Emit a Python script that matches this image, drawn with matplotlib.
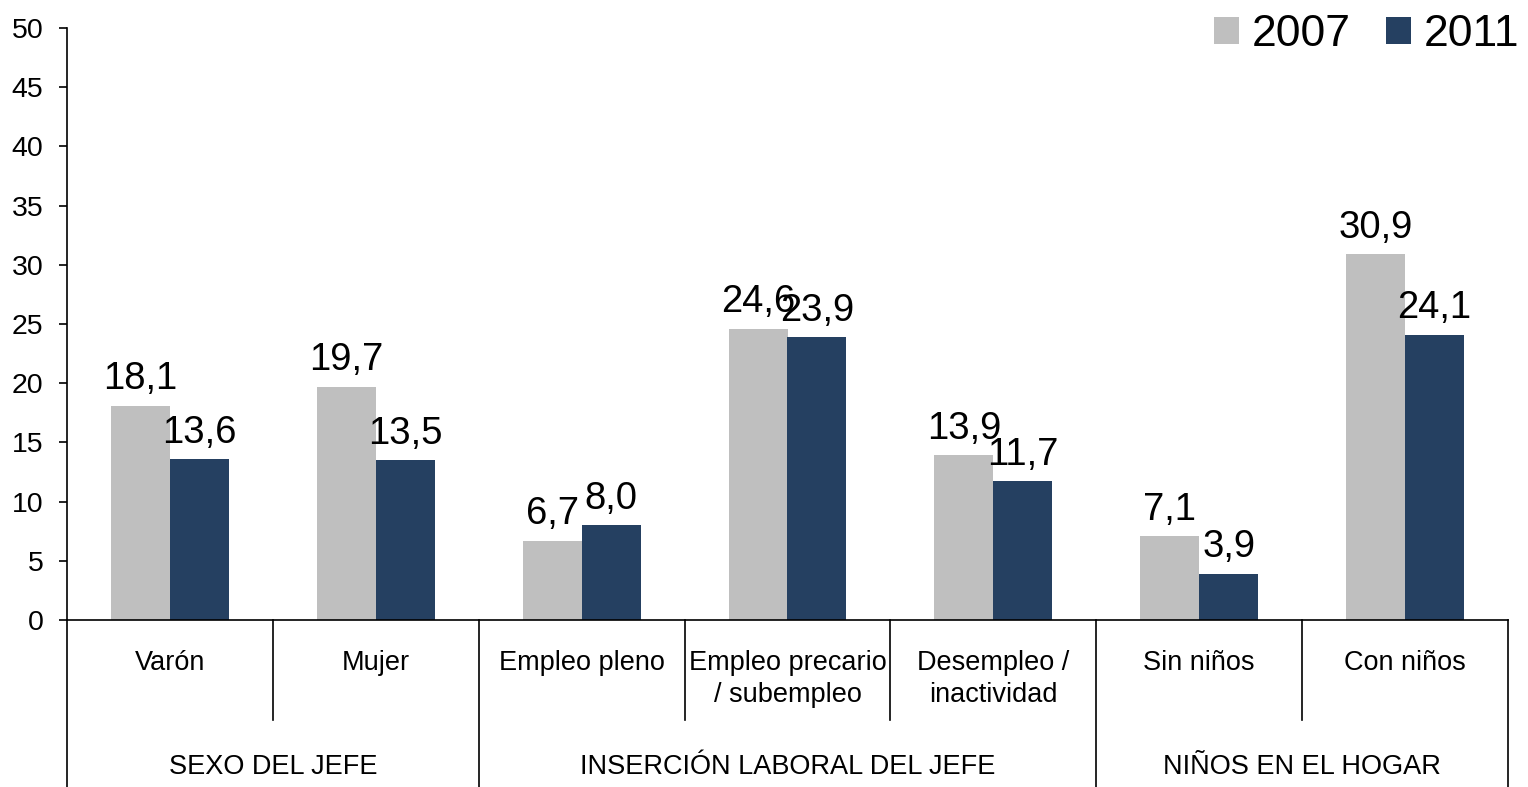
import matplotlib
matplotlib.use("Agg")
import matplotlib.pyplot as plt
from matplotlib.patches import Patch

plt.rcParams['font.family'] = ['Liberation Sans', 'DejaVu Sans']

categories = ["Varón", "Mujer", "Empleo pleno", "Empleo precario\n/ subempleo",
              "Desempleo /\ninactividad", "Sin niños", "Con niños"]
groups = ["SEXO DEL JEFE", "INSERCIÓN LABORAL DEL JEFE", "NIÑOS EN EL HOGAR"]
group_sizes = [2, 3, 2]
v2007 = [18.1, 19.7, 6.7, 24.6, 13.9, 7.1, 30.9]
v2011 = [13.6, 13.5, 8.0, 23.9, 11.7, 3.9, 24.1]
series_names = ["2007", "2011"]
yticks = [0, 5, 10, 15, 20, 25, 30, 35, 40, 45, 50]

c07 = "#BFBFBF"
c11 = "#254061"

W, H = 1528, 787
fig = plt.figure(figsize=(W / 100, H / 100), dpi=100)
ax = fig.add_axes([67 / W, 1 - 620 / H, (1508 - 67) / W, 592 / H])

n = len(categories)
w = 0.286
xs = [i + 0.5 for i in range(n)]
ax.bar([x - w / 2 for x in xs], v2007, width=w, color=c07, zorder=2)
ax.bar([x + w / 2 for x in xs], v2011, width=w, color=c11, zorder=2)

def fmt(v):
    return f"{v:.1f}".replace(".", ",")

for x, a, b in zip(xs, v2007, v2011):
    ax.annotate(fmt(a), (x - w / 2, a), xytext=(0, 6), textcoords="offset points",
                ha="center", va="bottom", fontsize=27.5)
    ax.annotate(fmt(b), (x + w / 2, b), xytext=(0, 6), textcoords="offset points",
                ha="center", va="bottom", fontsize=27.5)

ax.set_xlim(0, n)
ax.set_ylim(0, 50)
ax.set_yticks(yticks)
ax.set_yticklabels([str(t) for t in yticks], fontsize=20.5)
ax.tick_params(axis='y', direction='out', length=6, width=1.2, pad=11, color='black')
ax.set_xticks([])
for s in ['top', 'right']:
    ax.spines[s].set_visible(False)
ax.spines['left'].set_linewidth(1.2)
ax.spines['bottom'].set_linewidth(1.2)

tr = ax.get_xaxis_transform()
inner_bottom = -100 / 592
outer_bottom = -170 / 592

bounds_group = [0]
for g in group_sizes:
    bounds_group.append(bounds_group[-1] + g)
for b in range(n + 1):
    bottom = outer_bottom if b in bounds_group else inner_bottom
    ax.plot([b, b], [0, bottom], transform=tr, color='black', lw=1.2, clip_on=False)

for x, c in zip(xs, categories):
    ax.text(x, -30 / 592, c, transform=tr, ha='center', va='top', fontsize=19.5,
            linespacing=1.3)

for gi, g in enumerate(groups):
    center = (bounds_group[gi] + bounds_group[gi + 1]) / 2
    ax.text(center, -147 / 592, g, transform=tr, ha='center', va='center', fontsize=19.5)

handles = [Patch(facecolor=c07, edgecolor='none'), Patch(facecolor=c11, edgecolor='none')]
fig.legend(handles, series_names, loc='upper right', bbox_to_anchor=(1.0, 1 - 5 / H),
           ncol=2, frameon=False, fontsize=32, handlelength=0.56, handleheight=0.56,
           handletextpad=0.28, columnspacing=0.8, borderpad=0.1, borderaxespad=0.1)

fig.savefig("out.png", dpi=100)
